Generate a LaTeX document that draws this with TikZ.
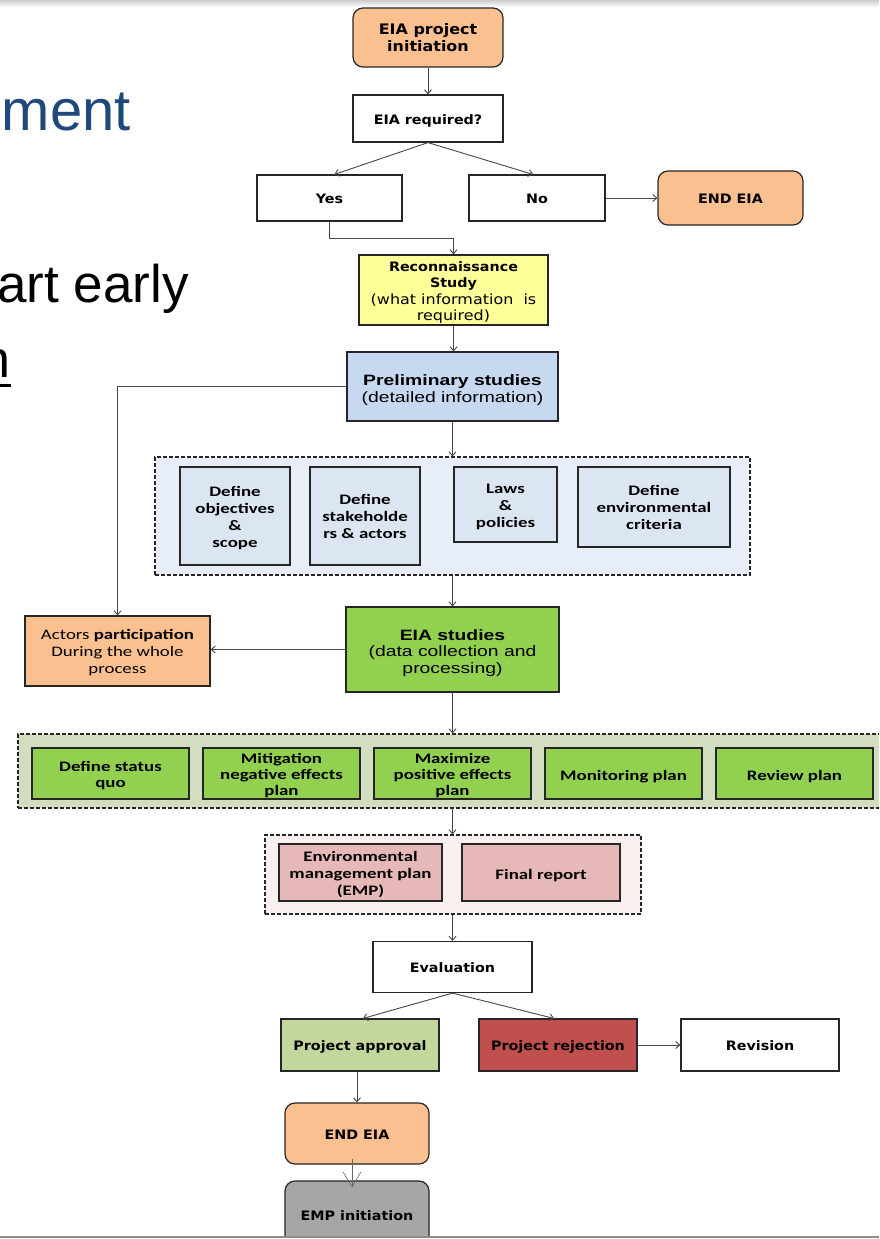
\documentclass[tikz,border=0pt]{standalone}
\usepackage{fontspec}
\setmainfont{Liberation Sans}
\newfontfamily\vfont[FakeStretch=1.1]{DejaVu Sans}
\newfontfamily\vrfont[FakeStretch=1.14]{DejaVu Sans}
\newfontfamily\cfont[FakeStretch=1.3]{Carlito}
\newfontfamily\afont[FakeStretch=1.29]{Liberation Sans}
\usetikzlibrary{arrows.meta,calc}
\newcommand\tx[2]{\raisebox{-#1}[\height][\depth]{\begin{tabular}{@{}c@{}}#2\end{tabular}}}
\definecolor{orng}{HTML}{FAC090}
\definecolor{yel}{HTML}{FFFF99}
\definecolor{pblue}{HTML}{C6D9F1}
\definecolor{cafill}{HTML}{E7EEF7}
\definecolor{cabox}{HTML}{DCE6F2}
\definecolor{grn}{HTML}{92D050}
\definecolor{cbfill}{HTML}{D3DDBF}
\definecolor{ccfill}{HTML}{F7F0EF}
\definecolor{pinkbox}{HTML}{E6B9B8}
\definecolor{apr}{HTML}{C3D69B}
\definecolor{rej}{HTML}{C0504D}
\definecolor{gry}{HTML}{A6A6A6}
\definecolor{slideblue}{HTML}{1F497D}
\begin{document}
\begin{tikzpicture}[x=1pt,y=-1pt,
  sz/.style n args={2}{minimum width=#1,minimum height=#2},
  box/.style={draw=black!85, line width=1.2pt, inner sep=1pt, align=center},
  rbox/.style={box, rounded corners=10pt},
  cont/.style={draw=black!85, line width=1.2pt, dash pattern=on 4pt off 2pt},
  conn/.style={draw=black!72, line width=0.9pt, -{Straight Barb[length=4pt,width=7pt]}},
  vt/.style={font={\vfont\bfseries\fontsize{13}{16}\selectfont}},
  vr/.style={font={\vrfont\fontsize{14}{16.5}\selectfont}},
  arialtxt/.style={font={\afont\fontsize{15}{16.5}\selectfont}},
  ct/.style={font={\cfont\bfseries\fontsize{14.5}{17}\selectfont}},
  cg/.style={font={\cfont\bfseries\fontsize{14.5}{16}\selectfont}},
  cr/.style={font={\cfont\fontsize{14.5}{17}\selectfont}},
  slide/.style={inner sep=0pt, font={\fontsize{#1}{#1}\selectfont}}
]
\useasboundingbox (0,0) rectangle (879,1239);
\clip (0,0) rectangle (879,1239);
\fill[white] (0,0) rectangle (879,1239);
\shade[top color=black!20, bottom color=white] (0,0) rectangle (879,7);

% slide text fragments
\node[slide=58, anchor=base east, text=slideblue] (t1) at (131,130) {ment};
\node[slide=53, anchor=base east] (t2) at (189,302) {art early};
\node[slide=52, anchor=base east] (t3) at (11,377) {n};
\draw[line width=2.5pt] (0,385.5) -- (11,385.5);

% containers
\node[cont, fill=cafill, sz={595}{118}] (c1) at (452.5,516) {};
\node[cont, fill=cbfill, sz={872}{74}] (c2) at (454,771) {};
\node[cont, fill=ccfill, sz={376}{79}] (c3) at (453,874.5) {};

% nodes
\node[rbox, fill=orng, sz={150}{59}, font={\vfont\bfseries\fontsize{14.5}{16.5}\selectfont}] (init) at (428,37.5) {EIA project\\initiation};
\node[box, sz={150}{47}, vt] (req) at (428,118.5) {\tx{2.5pt}{EIA required?}};
\node[box, sz={145}{46}, vt] (yes) at (329.5,198) {\tx{2.5pt}{Yes}};
\node[box, sz={136}{46}, vt] (no) at (537,198) {\tx{2.5pt}{No}};
\node[rbox, fill=orng, sz={145}{54}, vt] (endA) at (730.5,198) {\tx{2.5pt}{END EIA}};
\node[box, fill=yel, sz={189}{70}, vr] (recon) at (453.5,290) {\tx{2.5pt}{{\vfont\fontsize{13}{16.5}\selectfont\bfseries Reconnaissance}\\{\vfont\fontsize{13}{16.5}\selectfont\bfseries Study}\\(what information\ \ is\\required)}};
\node[box, fill=pblue, sz={211}{69}, arialtxt] (prelim) at (452.5,386.5) {\tx{4pt}{\bfseries Preliminary studies\\(detailed information)}};

\node[box, fill=cabox, sz={110}{98}, ct] (d1) at (235,516) {\tx{2.5pt}{Define\\objectives\\\&\\scope}};
\node[box, fill=cabox, sz={110}{98}, ct] (d2) at (365,516) {\tx{2.5pt}{Define\\stakeholde\\rs \& actors}};
\node[box, fill=cabox, sz={103}{75}, ct] (d3) at (505.5,504.5) {\tx{2.5pt}{Laws\\\&\\policies}};
\node[box, fill=cabox, sz={152}{80}, ct] (d4) at (654,507) {\tx{2.5pt}{Define\\environmental\\criteria}};

\node[box, fill=orng, sz={185}{70}, cr] (actors) at (117.5,651) {\tx{2.5pt}{Actors \textbf{participation}\\During the whole\\process}};
\node[box, fill=grn, sz={213}{85}, arialtxt] (eia) at (452.5,649.5) {\tx{4pt}{\bfseries EIA studies\\(data collection and\\processing)}};

\node[box, fill=grn, sz={157}{51}, cg] (g1) at (110.5,773.5) {\tx{2.5pt}{Define status\\quo}};
\node[box, fill=grn, sz={157}{51}, cg] (g2) at (281.5,773.5) {\tx{2.5pt}{Mitigation\\negative effects\\plan}};
\node[box, fill=grn, sz={157}{51}, cg] (g3) at (452.5,773.5) {\tx{2.5pt}{Maximize\\positive effects\\plan}};
\node[box, fill=grn, sz={157}{51}, cg] (g4) at (623.5,773.5) {\tx{3.3pt}{Monitoring plan}};
\node[box, fill=grn, sz={157}{51}, cg] (g5) at (794.5,773.5) {\tx{3.3pt}{Review plan}};

\node[box, fill=pinkbox, sz={163}{57}, ct] (emp) at (360.5,872.5) {\tx{2.5pt}{Environmental\\management plan\\(EMP)}};
\node[box, fill=pinkbox, sz={158}{57}, ct] (final) at (541,872.5) {\tx{3.4pt}{Final report}};

\node[box, sz={159}{51}, vt] (eval) at (452.5,967) {\tx{2.5pt}{Evaluation}};
\node[box, fill=apr, sz={158}{52}, vt] (appr) at (360,1045) {\tx{2.5pt}{Project approval}};
\node[box, fill=rej, sz={158}{52}, vt] (rejc) at (558,1045) {\tx{2.5pt}{Project rejection}};
\node[box, sz={158}{52}, vt] (rev) at (760,1045) {\tx{2.5pt}{Revision}};
\node[rbox, fill=orng, sz={144}{61}, vt] (endB) at (357,1133.5) {\tx{2.5pt}{END EIA}};
\node[rbox, fill=gry, sz={144}{74}, vt] (empi) at (357,1218) {\raisebox{5pt}{EMP initiation}};

% connectors
\draw[conn] (init.south) -- (req.north);
\draw[conn] (req.south) -- ([xshift=5pt]yes.north);
\draw[conn] (req.south) -- ([xshift=-4pt]no.north);
\draw[conn] (no.east) -- (endA.west);
\draw[conn] (yes.south) -- ++(0,17) -| (recon.north);
\draw[conn] (recon.south) -- (recon.south |- prelim.north);
\draw[conn] (prelim.west) -| (actors.north);
\draw[conn] (prelim.south) -- (prelim.south |- c1.north);
\draw[conn] (prelim.south |- c1.south) -- (eia.north);
\draw[conn] (eia.west) -- (eia.west -| actors.east);
\draw[conn] (eia.south) -- (eia.south |- c2.north);
\draw[conn] (eia.south |- c2.south) -- (eia.south |- c3.north);
\draw[conn] (eia.south |- c3.south) -- (eval.north);
\draw[conn] (eval.south) -- ([xshift=3pt]appr.north);
\draw[conn] (eval.south) -- ([xshift=-4pt]rejc.north);
\draw[conn] (rejc.east) -- (rev.west);
\draw[conn] (endB.north |- appr.south) -- (endB.north);
\coordinate (s1) at ([xshift=-5pt,yshift=6pt]endB.south);
\coordinate (s2) at ([xshift=-5pt,yshift=-7pt]empi.north);
\draw[draw=black!60, line width=0.6pt, -{Straight Barb[length=15pt,width=18pt,line width=0.6pt]}] (s1) -- (s2);

\fill[white] (0,1237) rectangle (879,1239);
\draw[black!45, line width=1.5pt] (0,1237) -- (879,1237);
\end{tikzpicture}
\end{document}
